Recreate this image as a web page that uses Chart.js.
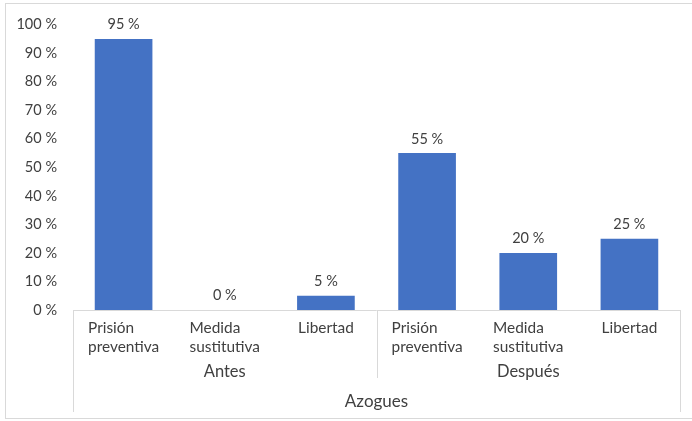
<!DOCTYPE html>
<html>
<head>
<meta charset="utf-8">
<script src="https://cdn.jsdelivr.net/npm/chart.js@4/dist/chart.umd.min.js"></script>
<style>
  html, body { margin: 0; padding: 0; background: #ffffff; }
  #wrap { position: relative; width: 692px; height: 421px; overflow: hidden; }
  #frame { position: absolute; left: 5px; top: 3px; width: 700px; height: 416px;
           border: 1px solid #d9d9d9; box-sizing: border-box; }
  canvas { position: absolute; left: 0; top: 0; }
</style>
</head>
<body>
<div id="wrap">
  <div id="frame"></div>
  <canvas id="c" width="692" height="421"></canvas>
</div>
<script>
// Categories: outcome per period, grouped by period, all for Azogues
const categories = [
  ["Prisión", "preventiva"], ["Medida", "sustitutiva"], ["Libertad"],
  ["Prisión", "preventiva"], ["Medida", "sustitutiva"], ["Libertad"]
];
const groups = ["Antes", "Después"];
const groupSize = 3;
const region = "Azogues";
const values = [95, 0, 5, 55, 20, 25];
const yTicks = [0, 10, 20, 30, 40, 50, 60, 70, 80, 90, 100];

const FONT = "Lato, 'Open Sans', sans-serif";
const TEXT = "#404040";
const LINE = "#d9d9d9";

const fmt = v => v + " %";

// Value labels above each bar
const valueLabels = {
  id: "valueLabels",
  afterDatasetsDraw(chart) {
    const ctx = chart.ctx;
    const meta = chart.getDatasetMeta(0);
    ctx.save();
    ctx.font = "14.5px " + FONT;
    ctx.fillStyle = TEXT;
    ctx.textAlign = "center";
    ctx.textBaseline = "bottom";
    meta.data.forEach((bar, i) => {
      ctx.fillText(fmt(values[i]), bar.x, bar.y - 7);
    });
    ctx.restore();
  }
};

// Multi-level category axis: item labels, period groups, region, separators
const multiAxis = {
  id: "multiAxis",
  afterDraw(chart) {
    const ctx = chart.ctx;
    const x = chart.scales.x;
    const area = chart.chartArea;
    const base = area.bottom;
    const step = x.getPixelForValue(1) - x.getPixelForValue(0);
    const left = x.getPixelForValue(0) - step / 2;
    const right = x.getPixelForValue(categories.length - 1) + step / 2;
    ctx.save();
    ctx.strokeStyle = LINE;
    ctx.lineWidth = 1;
    const vline = (px, y2) => {
      ctx.beginPath();
      ctx.moveTo(Math.round(px) + 0.5, base);
      ctx.lineTo(Math.round(px) + 0.5, y2);
      ctx.stroke();
    };
    vline(left, base + 102);
    vline(right, base + 102);
    for (let g = 1; g < groups.length; g++) {
      vline(left + g * groupSize * step, base + 68);
    }
    ctx.beginPath();
    ctx.moveTo(left, Math.round(base) + 0.5);
    ctx.lineTo(right, Math.round(base) + 0.5);
    ctx.stroke();

    ctx.fillStyle = TEXT;
    ctx.font = "15.4px " + FONT;
    ctx.textBaseline = "middle";
    ctx.textAlign = "left";
    categories.forEach((lines, i) => {
      const cx = x.getPixelForValue(i);
      const w = Math.max(...lines.map(l => ctx.measureText(l).width));
      lines.forEach((l, k) => {
        ctx.fillText(l, cx - w / 2, base + 18 + k * 19);
      });
    });
    ctx.textAlign = "center";
    ctx.font = "16.5px " + FONT;
    groups.forEach((g, gi) => {
      const cx = left + (gi + 0.5) * groupSize * step;
      ctx.fillText(g, cx, base + 62);
    });
    ctx.font = "17px " + FONT;
    ctx.fillText(region, (left + right) / 2, base + 92);
    ctx.restore();
  }
};

new Chart(document.getElementById("c"), {
  type: "bar",
  data: {
    labels: categories.map(c => c.join(" ")),
    datasets: [{
      data: values,
      backgroundColor: "#4472C4",
      borderWidth: 0,
      categoryPercentage: 1,
      barPercentage: 0.57
    }]
  },
  options: {
    responsive: false,
    animation: false,
    devicePixelRatio: 1,
    layout: { padding: { top: 23, right: 12, left: 0, bottom: 0 } },
    plugins: { legend: { display: false }, tooltip: { enabled: false } },
    scales: {
      x: {
        grid: { display: false, drawTicks: false },
        border: { display: false },
        ticks: { display: false },
        afterFit: s => { s.height = 111; }
      },
      y: {
        min: 0, max: 100,
        afterFit: s => { s.width = 73; },
        afterBuildTicks: s => { s.ticks = yTicks.map(v => ({ value: v })); },
        grid: { display: false, drawTicks: false },
        border: { display: false },
        ticks: {
          padding: 16,
          color: TEXT,
          font: { family: FONT, size: 14.5 },
          callback: v => fmt(v)
        }
      }
    }
  },
  plugins: [valueLabels, multiAxis]
});
</script>
</body>
</html>
